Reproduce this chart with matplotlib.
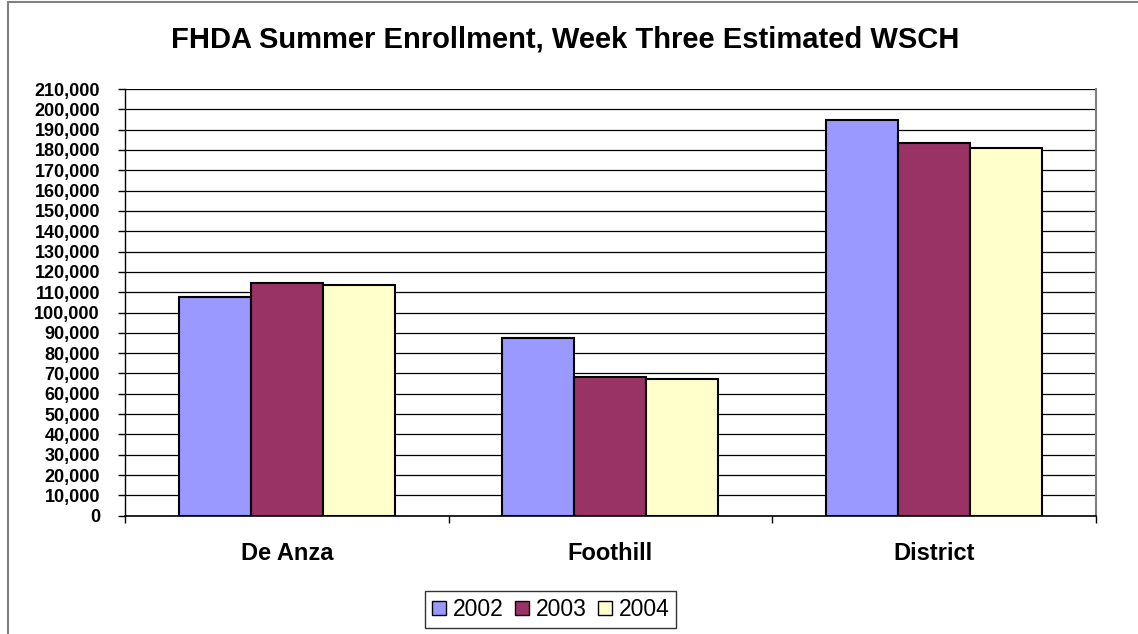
import numpy as np
import matplotlib.pyplot as plt
import matplotlib.patches as patches
from matplotlib.ticker import FuncFormatter, MultipleLocator

plt.rcParams["font.family"] = ["Liberation Sans", "DejaVu Sans"]

campuses = ["De Anza", "Foothill", "District"]
years = ["2002", "2003", "2004"]
wsch_2002 = [107600, 87300, 194800]
wsch_2003 = [114500, 68200, 183500]
wsch_2004 = [113700, 67100, 180900]
colors = ["#9999FF", "#993366", "#FFFFCC"]

fig = plt.figure(figsize=(11.38, 6.34), dpi=100)
ax = fig.add_axes([0.1098, 0.1866, 0.8532, 0.673])

# outer chart frame (runs off the right/bottom edge like the original)
fig.patches.append(patches.Rectangle((8 / 1138, -0.1), 1.2, 1.1 - 2 / 634,
                                     transform=fig.transFigure, fill=False,
                                     edgecolor="#808080", linewidth=1.5))

x = np.arange(len(campuses))
w = 0.2225
series = [wsch_2002, wsch_2003, wsch_2004]
for i, (vals, yr, c) in enumerate(zip(series, years, colors)):
    ax.bar(x + (i - 1) * w, vals, width=w, color=c, edgecolor="black",
           linewidth=1.5, label=yr, zorder=3)

ax.set_xlim(-0.5, 2.5)
ax.set_ylim(0, 210000)
ax.yaxis.set_major_locator(MultipleLocator(10000))
ax.yaxis.set_major_formatter(FuncFormatter(lambda v, p: f"{int(v):,}"))
ax.grid(axis="y", color="black", linewidth=0.9, zorder=0)

# category boundaries get tick marks, labels sit at the centres
ax.set_xticks([-0.5, 0.5, 1.5, 2.5])
ax.set_xticklabels([])
ax.set_xticks(x, minor=True)
ax.set_xticklabels(campuses, minor=True, fontsize=17, fontweight="bold")
ax.tick_params(axis="x", which="major", direction="out", length=5, width=1)
ax.tick_params(axis="x", which="minor", length=0, pad=19)
ax.tick_params(axis="y", direction="out", length=5, width=1, pad=13)
for lab in ax.get_yticklabels():
    lab.set_fontsize(13)
    lab.set_fontweight("bold")

ax.spines["top"].set_visible(False)
ax.spines["right"].set_color("#808080")
ax.spines["right"].set_linewidth(1.5)
ax.spines["left"].set_linewidth(1)
ax.spines["bottom"].set_linewidth(1.2)

fig.text(0.497, 0.937, "FHDA Summer Enrollment, Week Three Estimated WSCH",
         ha="center", va="center", fontsize=21, fontweight="bold")

leg = fig.legend(loc="center", bbox_to_anchor=(0.484, 0.0387), ncol=3,
                 fontsize=16.5, frameon=True, fancybox=False,
                 handlelength=0.6, handleheight=0.6, handletextpad=0.3,
                 columnspacing=0.5, borderpad=0.3, borderaxespad=0)
leg.get_frame().set_edgecolor("black")
leg.get_frame().set_linewidth(1)
for h in leg.legend_handles:
    h.set_linewidth(1)

fig.savefig("out.png", dpi=100, facecolor="white")
